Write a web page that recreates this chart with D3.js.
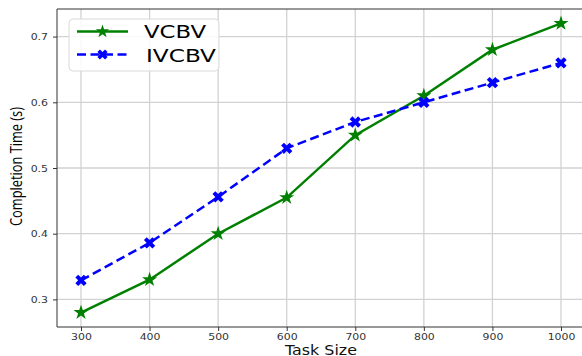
<!DOCTYPE html>
<html>
<head>
<meta charset="utf-8">
<script src="https://cdn.jsdelivr.net/npm/d3@7"></script>
<style>
  body { margin: 0; background: #fff; }
  svg { display: block; font-family: "DejaVu Sans", sans-serif; }
</style>
</head>
<body>
<div id="chart"></div>
<script>
// data
var taskSizes = [300, 400, 500, 600, 700, 800, 900, 1000];
var vcbv = [0.28, 0.33, 0.40, 0.455, 0.55, 0.61, 0.68, 0.72];
var ivcbv = [0.329, 0.386, 0.456, 0.53, 0.57, 0.60, 0.63, 0.66];
var xTicks = [300, 400, 500, 600, 700, 800, 900, 1000];
var yTicks = [0.3, 0.4, 0.5, 0.6, 0.7];

var width = 582, height = 356;
var margin = { top: 9, right: -3, bottom: 29, left: 57 };
var w = width - margin.left - margin.right;
var h = height - margin.top - margin.bottom;

var svg = d3.select("#chart").append("svg")
  .attr("width", width)
  .attr("height", height);

var g = svg.append("g")
  .attr("transform", `translate(${margin.left}, ${margin.top})`);

// matplotlib-like 5% padding
var x = d3.scaleLinear().domain([265, 1035]).range([0, w]);
var y = d3.scaleLinear().domain([0.258, 0.742]).range([h, 0]);

// grid
g.append("g").selectAll("line").data(xTicks).enter().append("line")
  .attr("x1", d => x(d)).attr("x2", d => x(d))
  .attr("y1", 0).attr("y2", h)
  .attr("stroke", "#d2d2d2").attr("stroke-width", 1.3);
g.append("g").selectAll("line").data(yTicks).enter().append("line")
  .attr("y1", d => y(d)).attr("y2", d => y(d))
  .attr("x1", 0).attr("x2", w)
  .attr("stroke", "#d2d2d2").attr("stroke-width", 1.3);

// axes
var bottomAxis = d3.axisBottom(x).tickValues(xTicks).tickSize(4).tickPadding(3).tickFormat(d3.format("d"));
var leftAxis = d3.axisLeft(y).tickValues(yTicks).tickSize(4).tickPadding(5).tickFormat(d3.format(".1f"));

var xa = g.append("g").attr("transform", `translate(0, ${h})`).call(bottomAxis);
var ya = g.append("g").call(leftAxis);

[xa, ya].forEach(function(a) {
  a.select(".domain").remove();
  a.selectAll(".tick line").attr("stroke", "#333");
  a.selectAll(".tick text")
    .attr("fill", "#333")
    .style("font-size", "9.5px")
    .style("font-family", "DejaVu Sans");
});
xa.selectAll(".tick text").attr("y", 0).attr("dy", 0)
  .attr("transform", "translate(0, 13) scale(1.15, 1)");
ya.selectAll(".tick text").attr("x", 0).attr("dy", "0.34em")
  .attr("transform", "translate(-9, 0) scale(1.15, 1)");

// spines
g.append("line").attr("x1", 0).attr("x2", 0).attr("y1", 0).attr("y2", h).attr("stroke", "#333");
g.append("line").attr("x1", 0).attr("x2", w).attr("y1", h).attr("y2", h).attr("stroke", "#333");
g.append("line").attr("x1", 0).attr("x2", w).attr("y1", 0).attr("y2", 0).attr("stroke", "#333");
g.append("line").attr("x1", w).attr("x2", w).attr("y1", 0).attr("y2", h).attr("stroke", "#333");

// lines
var line = d3.line().x((d, i) => x(taskSizes[i])).y(d => y(d));

var star = d3.symbol().type(d3.symbolStar).size(70);
var cross = d3.symbol().type(d3.symbolCross).size(80);
var starSmall = d3.symbol().type(d3.symbolStar).size(55);
var crossSmall = d3.symbol().type(d3.symbolCross).size(65);

g.append("path").datum(vcbv)
  .attr("d", line).attr("fill", "none")
  .attr("stroke", "green").attr("stroke-width", 2.5);
g.append("g").selectAll("path").data(vcbv).enter().append("path")
  .attr("d", star)
  .attr("transform", (d, i) => `translate(${x(taskSizes[i])}, ${y(d)})`)
  .attr("fill", "green");

g.append("path").datum(ivcbv)
  .attr("d", line).attr("fill", "none")
  .attr("stroke", "blue").attr("stroke-width", 2.5)
  .attr("stroke-dasharray", "9,4.5");
g.append("g").selectAll("path").data(ivcbv).enter().append("path")
  .attr("d", cross)
  .attr("transform", (d, i) => `translate(${x(taskSizes[i])}, ${y(d)}) rotate(45)`)
  .attr("fill", "blue");

// legend
var legend = svg.append("g");
legend.append("rect")
  .attr("x", 69).attr("y", 19).attr("width", 150).attr("height", 52)
  .attr("rx", 4).attr("fill", "#fff").attr("fill-opacity", 0.85)
  .attr("stroke", "#dadada");

legend.append("line").attr("x1", 77).attr("x2", 128).attr("y1", 31.5).attr("y2", 31.5)
  .attr("stroke", "green").attr("stroke-width", 2.5);
legend.append("path").attr("d", starSmall).attr("transform", "translate(102.5, 31.5)").attr("fill", "green");
legend.append("text").attr("x", 144).attr("y", 38)
  .attr("textLength", 62).attr("lengthAdjust", "spacingAndGlyphs")
  .style("font-size", "17.5px").text("VCBV");

legend.append("line").attr("x1", 77).attr("x2", 128).attr("y1", 54.5).attr("y2", 54.5)
  .attr("stroke", "blue").attr("stroke-width", 2.5).attr("stroke-dasharray", "9,4.5");
legend.append("path").attr("d", crossSmall).attr("transform", "translate(102.5, 54.5) rotate(45)").attr("fill", "blue");
legend.append("text").attr("x", 146).attr("y", 62)
  .attr("textLength", 70).attr("lengthAdjust", "spacingAndGlyphs")
  .style("font-size", "17.5px").text("IVCBV");

// axis labels
svg.append("text")
  .attr("x", 285).attr("y", 354.5)
  .attr("textLength", 72).attr("lengthAdjust", "spacingAndGlyphs")
  .style("font-size", "13.5px").attr("fill", "#111")
  .text("Task Size");

svg.append("text")
  .attr("transform", "translate(22, 226) rotate(-90)")
  .attr("textLength", 119).attr("lengthAdjust", "spacingAndGlyphs")
  .style("font-family", "'Open Sans', sans-serif")
  .style("font-size", "15.5px").attr("fill", "#000")
  .text("Completion Time (s)");
</script>
</body>
</html>
